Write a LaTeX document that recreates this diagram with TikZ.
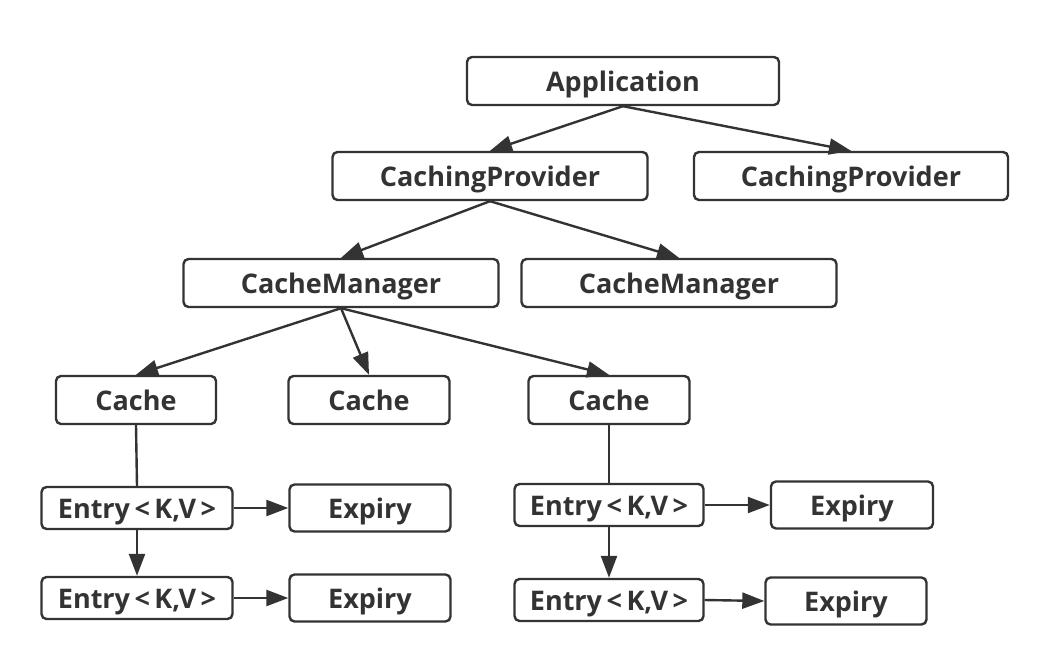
\documentclass[tikz,border=0pt]{standalone}
\usepackage{fontspec}
\setmainfont{Open Sans}
\usepackage{tikz}
\usetikzlibrary{arrows.meta}

\begin{document}
\begin{tikzpicture}[x=1pt,y=-1pt,
  box/.style={draw=ink,line width=2.4pt,rounded corners=5pt,fill=white,inner sep=0pt,
    text height=24pt,text depth=3pt,
    font=\fontsize{27}{30}\selectfont\bfseries,text=ink},
  link/.style={draw=ink,line width=2.4pt},
  arr/.style={link,-{Triangle[length=22pt,width=16pt]}}]
  \definecolor{ink}{HTML}{333333}
  \useasboundingbox (0,0) rectangle (1063,666);
  \node[box,minimum width=312pt,minimum height=48pt] (app) at (623,81) {Application};
  \node[box,minimum width=315pt,minimum height=48pt] (prov) at (490,176) {CachingProvider};
  \node[box,minimum width=314pt,minimum height=48pt] (provb) at (851,176) {CachingProvider};
  \node[box,minimum width=315pt,minimum height=48pt] (mgr) at (341,283) {CacheManager};
  \node[box,minimum width=315pt,minimum height=48pt] (mgrb) at (679,283) {CacheManager};
  \node[box,minimum width=160pt,minimum height=48pt] (cachea) at (136,400) {Cache};
  \node[box,minimum width=161pt,minimum height=48pt] (cacheb) at (369,400) {Cache};
  \node[box,minimum width=161pt,minimum height=48pt] (cachec) at (609,400) {Cache};
  \node[box,minimum width=191pt,minimum height=42pt] (entrya) at (137,508) {Entry\,<\,K,V\,>};
  \node[box,minimum width=161pt,minimum height=47pt] (expirya) at (370,508) {Expiry};
  \node[box,minimum width=191pt,minimum height=42pt] (entryb) at (137,598) {Entry\,<\,K,V\,>};
  \node[box,minimum width=161pt,minimum height=47pt] (expiryb) at (370,598) {Expiry};
  \node[box,minimum width=189pt,minimum height=42pt] (entryc) at (609,505) {Entry\,<\,K,V\,>};
  \node[box,minimum width=162pt,minimum height=47pt] (expiryc) at (852,505) {Expiry};
  \node[box,minimum width=189pt,minimum height=42pt] (entryd) at (609,600) {Entry\,<\,K,V\,>};
  \node[box,minimum width=161pt,minimum height=47pt] (expiryd) at (846,601) {Expiry};
  \draw[arr] (app.south) -- (prov.north);
  \draw[arr] (app.south) -- (provb.north);
  \draw[arr] (prov.south) -- (mgr.north);
  \draw[arr] (prov.south) -- (mgrb.north);
  \draw[arr] (mgr.south) -- (cachea.north);
  \draw[arr] (mgr.south) -- (cacheb.north);
  \draw[arr] (mgr.south) -- (cachec.north);
  \draw[link] (cachea.south) -- (entrya.north);
  \draw[arr] (entrya.south) -- (entryb.north);
  \draw[arr] (entrya.east) -- (expirya.west);
  \draw[arr] (entryb.east) -- (expiryb.west);
  \draw[link] (cachec.south) -- (entryc.north);
  \draw[arr] (entryc.south) -- (entryd.north);
  \draw[arr] (entryc.east) -- (expiryc.west);
  \draw[arr] (entryd.east) -- (expiryd.west);
\end{tikzpicture}
\end{document}
